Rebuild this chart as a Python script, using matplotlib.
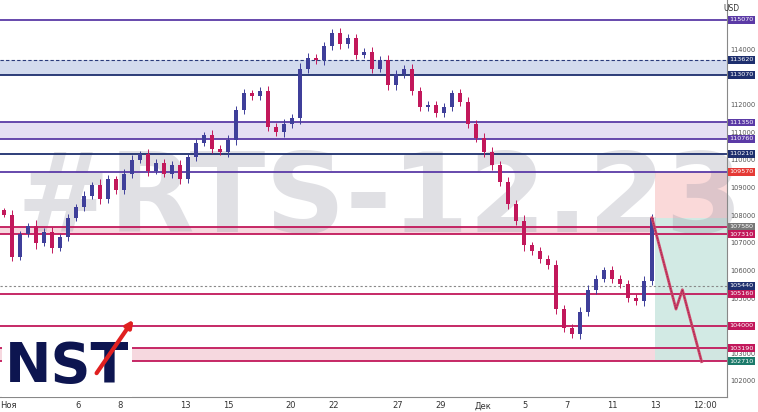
import matplotlib
matplotlib.use("Agg")
import matplotlib.pyplot as plt
import numpy as np

closes = [108000,106500,107300,107600,107000,107400,106800,107200,107900,108300,108700,109100,108600,109300,
          108900,109500,110000,110200,109600,109900,109500,109800,109300,110100,110600,110900,110400,110300,
          110700,111800,112400,112300,112500,111200,111000,111300,111500,113300,113700,113600,114100,114600,
          114200,114400,113800,113900,113300,113600,112700,113100,113300,112500,111900,112000,111700,111900,
          112400,112100,111300,110800,110300,109800,109200,108400,107800,106900,106700,106400,106200,104600,
          103900,103700,104500,105300,105700,106000,105700,105500,105000,104900,105600,107900]
proj_prices = [107900, 104600, 105300, 102700]
proj_steps = [0, 3.0, 3.8, 6.2]

levels = [115070,113620,113070,111350,110760,110210,109570,107580,107310,105440,105160,104000,103190,102710]
level_colors = ['#5b3aa6','#2a3a7a','#1e2f6e','#5b3aa6','#5b3aa6','#1e2f6e','#5b3aa6','#c2185b','#c2185b',
                '#888888','#c2185b','#c2185b','#c2185b','#c2185b']
label_colors = ['#5b3aa6','#1e2f6e','#1e2f6e','#5b3aa6','#5b3aa6','#1e2f6e','#e53935','#777777','#c2185b',
                '#1e2f6e','#c2185b','#c2185b','#c2185b','#1b7a6a']
xtick_labels = ['Ноя','6','8','13','15','20','22','27','29','Дек','5','7','11','13','12:00']
xtick_pos = [8,78,120,185,228,291,334,398,441,483,525,567,612,655,705]

fig = plt.figure(figsize=(7.58,4.12), dpi=100)
ax = fig.add_axes([0, 15/412, 727/758, 397/412])
ax.set_xlim(0,727); ax.set_ylim(101420,115780)

ax.axhspan(113070,113620,color='#c9d3ea',alpha=0.8,lw=0)
ax.axhspan(110760,111350,color='#e3dcf2',alpha=0.9,lw=0)
ax.axhspan(107310,107580,color='#f6d4dc',alpha=0.9,lw=0)
ax.axhspan(102710,103190,color='#f6d4dc',alpha=0.9,lw=0)
ax.fill_between([655,727],107900,109570,color='#f9d0d0',alpha=0.8,lw=0)
ax.fill_between([655,727],102710,107900,color='#cde8e2',alpha=0.9,lw=0)

for lv,c in zip(levels,level_colors):
    if lv==105440:
        ax.axhline(lv,color=c,lw=0.8,ls=(0,(2,2)))
    elif lv==113620:
        ax.axhline(lv,color=c,lw=0.8,ls=(0,(3,2)))
    else:
        ax.axhline(lv,color=c,lw=1.3)

ax.text(380,108500,'#RTS-12.23',fontsize=80,fontweight='bold',color='#9a9aa8',alpha=0.3,
        ha='center',va='center',zorder=1)

rng_hi = [90,250,200,150,300,180,260,150,200,170,240,160,300,210,180,220,250,150,260,170,200,230,250,
          180,210,160,240,200,260,220,230,180,210,250,200,260,200,300,220,190,250,200,260,230,210,180,240,
          200,260,230,190,240,210,180,200,230,190,210,240,200,260,220,200,250,230,270,190,210,240,260,200,
          230,250,220,200,180,240,210,230,220,260,200]
for i,c in enumerate(closes):
    x = i*8+4
    o = closes[i-1] if i>0 else 108200
    col = '#3f3f9a' if c>=o else '#c2185b'
    h = rng_hi[i]*0.7
    ax.vlines(x, min(o,c)-h, max(o,c)+h, color=col, lw=0.7, zorder=3)
    ax.bar(x, abs(c-o) if abs(c-o)>30 else 30, bottom=min(o,c), width=3.5, color=col, zorder=3)

px = [len(closes)*8-4 + s*8 for s in proj_steps]
ax.plot(px, proj_prices, color='#d0486a', lw=2, zorder=4)
ax.plot(px, proj_prices, color='#a02050', lw=0.6, ls=(0,(2,1)), zorder=5)

ax.text(5,102500,'NST',fontsize=40,fontweight='black',color='#0d1550',va='center',ha='left',zorder=6,
        bbox=dict(facecolor='white',edgecolor='none',pad=2))
ax.annotate('',xy=(135,104300),xytext=(95,102200),arrowprops=dict(arrowstyle='-|>',color='#e02020',lw=3),zorder=7)

ax.set_xticks(xtick_pos); ax.set_xticklabels(xtick_labels,fontsize=6,color='#333')
ax.tick_params(axis='x',length=0,pad=3)
ax.yaxis.tick_right()
ax.set_yticks(range(102000,115001,1000))
ax.set_yticklabels([str(v) for v in range(102000,115001,1000)],fontsize=4.8,color='#555')
ax.tick_params(axis='y',length=0,pad=2.5)
for s in ['top','left']: ax.spines[s].set_visible(False)
ax.spines['right'].set_color('#888'); ax.spines['bottom'].set_color('#888')
for lv,c in zip(levels,label_colors):
    ax.text(729.5,lv,str(lv),fontsize=4.6,color='white',va='center',ha='left',
            bbox=dict(facecolor=c,edgecolor='none',pad=1.0),clip_on=False,zorder=10)
fig.text(0.975,0.99,'USD',fontsize=5.5,color='#333',ha='right',va='top')
fig.savefig('out.png',dpi=100,facecolor='white')
